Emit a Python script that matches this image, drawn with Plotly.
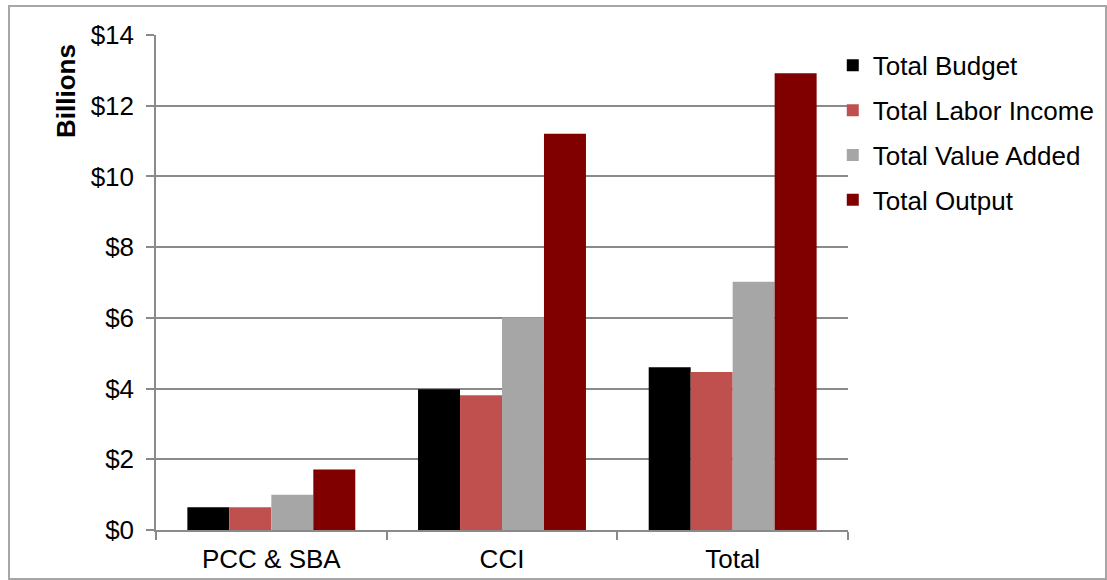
import plotly.graph_objects as go

categories = ["PCC & SBA", "CCI", "Total"]
series_names = ["Total Budget", "Total Labor Income", "Total Value Added", "Total Output"]
total_budget = [0.64, 3.98, 4.60]
total_labor_income = [0.64, 3.81, 4.47]
total_value_added = [1.00, 6.01, 7.02]
total_output = [1.71, 11.21, 12.92]
colors = ["#000000", "#c0504d", "#a6a6a6", "#800000"]
y_tickvals = [0, 2, 4, 6, 8, 10, 12, 14]
y_ticktext = ["$0", "$2", "$4", "$6", "$8", "$10", "$12", "$14"]

FONT = "Liberation Sans, Arial, sans-serif"
FS = 26
GRID = "#8a8a8a"

fig = go.Figure()
for i, (name, vals) in enumerate(zip(series_names, [total_budget, total_labor_income,
                                                   total_value_added, total_output])):
    fig.add_trace(go.Bar(
        x=categories, y=vals, name=name,
        marker=dict(color=colors[i], line=dict(width=0)),
        legendgroup=f"g{i}",
        hoverinfo="x+y+name",
    ))

fig.update_layout(
    width=1107, height=580,
    margin=dict(l=156, r=259, t=35, b=50, autoexpand=False),
    paper_bgcolor="white", plot_bgcolor="white",
    barmode="group", bargap=0.272, bargroupgap=0,
    font=dict(family=FONT, size=FS, color="black"),
    showlegend=True,
    legend=dict(
        x=0.978, xanchor="left", y=0.986, yanchor="top",
        font=dict(family=FONT, size=FS, color="black"),
        tracegroupgap=8, itemsizing="constant",
        bgcolor="rgba(0,0,0,0)",
    ),
    xaxis=dict(
        showgrid=False, showline=True, linecolor=GRID, linewidth=1.5,
        ticks="outside", tickson="boundaries", ticklen=8, tickcolor=GRID, tickwidth=1.5,
        ticklabelstandoff=5,
        tickfont=dict(family=FONT, size=FS, color="black"),
    ),
    yaxis=dict(
        range=[0, 14], tickvals=y_tickvals, ticktext=y_ticktext,
        showgrid=True, gridcolor=GRID, gridwidth=1.5,
        showline=True, linecolor=GRID, linewidth=1.5,
        ticks="outside", ticklen=8, tickcolor=GRID, tickwidth=1.5,
        ticklabelstandoff=7, zeroline=False,
        tickfont=dict(family=FONT, size=FS, color="black"),
    ),
    annotations=[dict(
        text="<b>Billions</b>", textangle=-90,
        xref="paper", yref="paper", x=-0.130, y=0.887,
        xanchor="center", yanchor="middle", showarrow=False,
        font=dict(family=FONT, size=FS, color="black"),
    )],
    shapes=[dict(
        type="rect", xref="paper", yref="paper",
        x0=-0.2124, x1=1.3728, y0=-0.099, y1=1.0586,
        line=dict(color="#a6a6a6", width=2), fillcolor="rgba(0,0,0,0)",
        layer="below",
    )],
)

fig.write_html("out.html")
